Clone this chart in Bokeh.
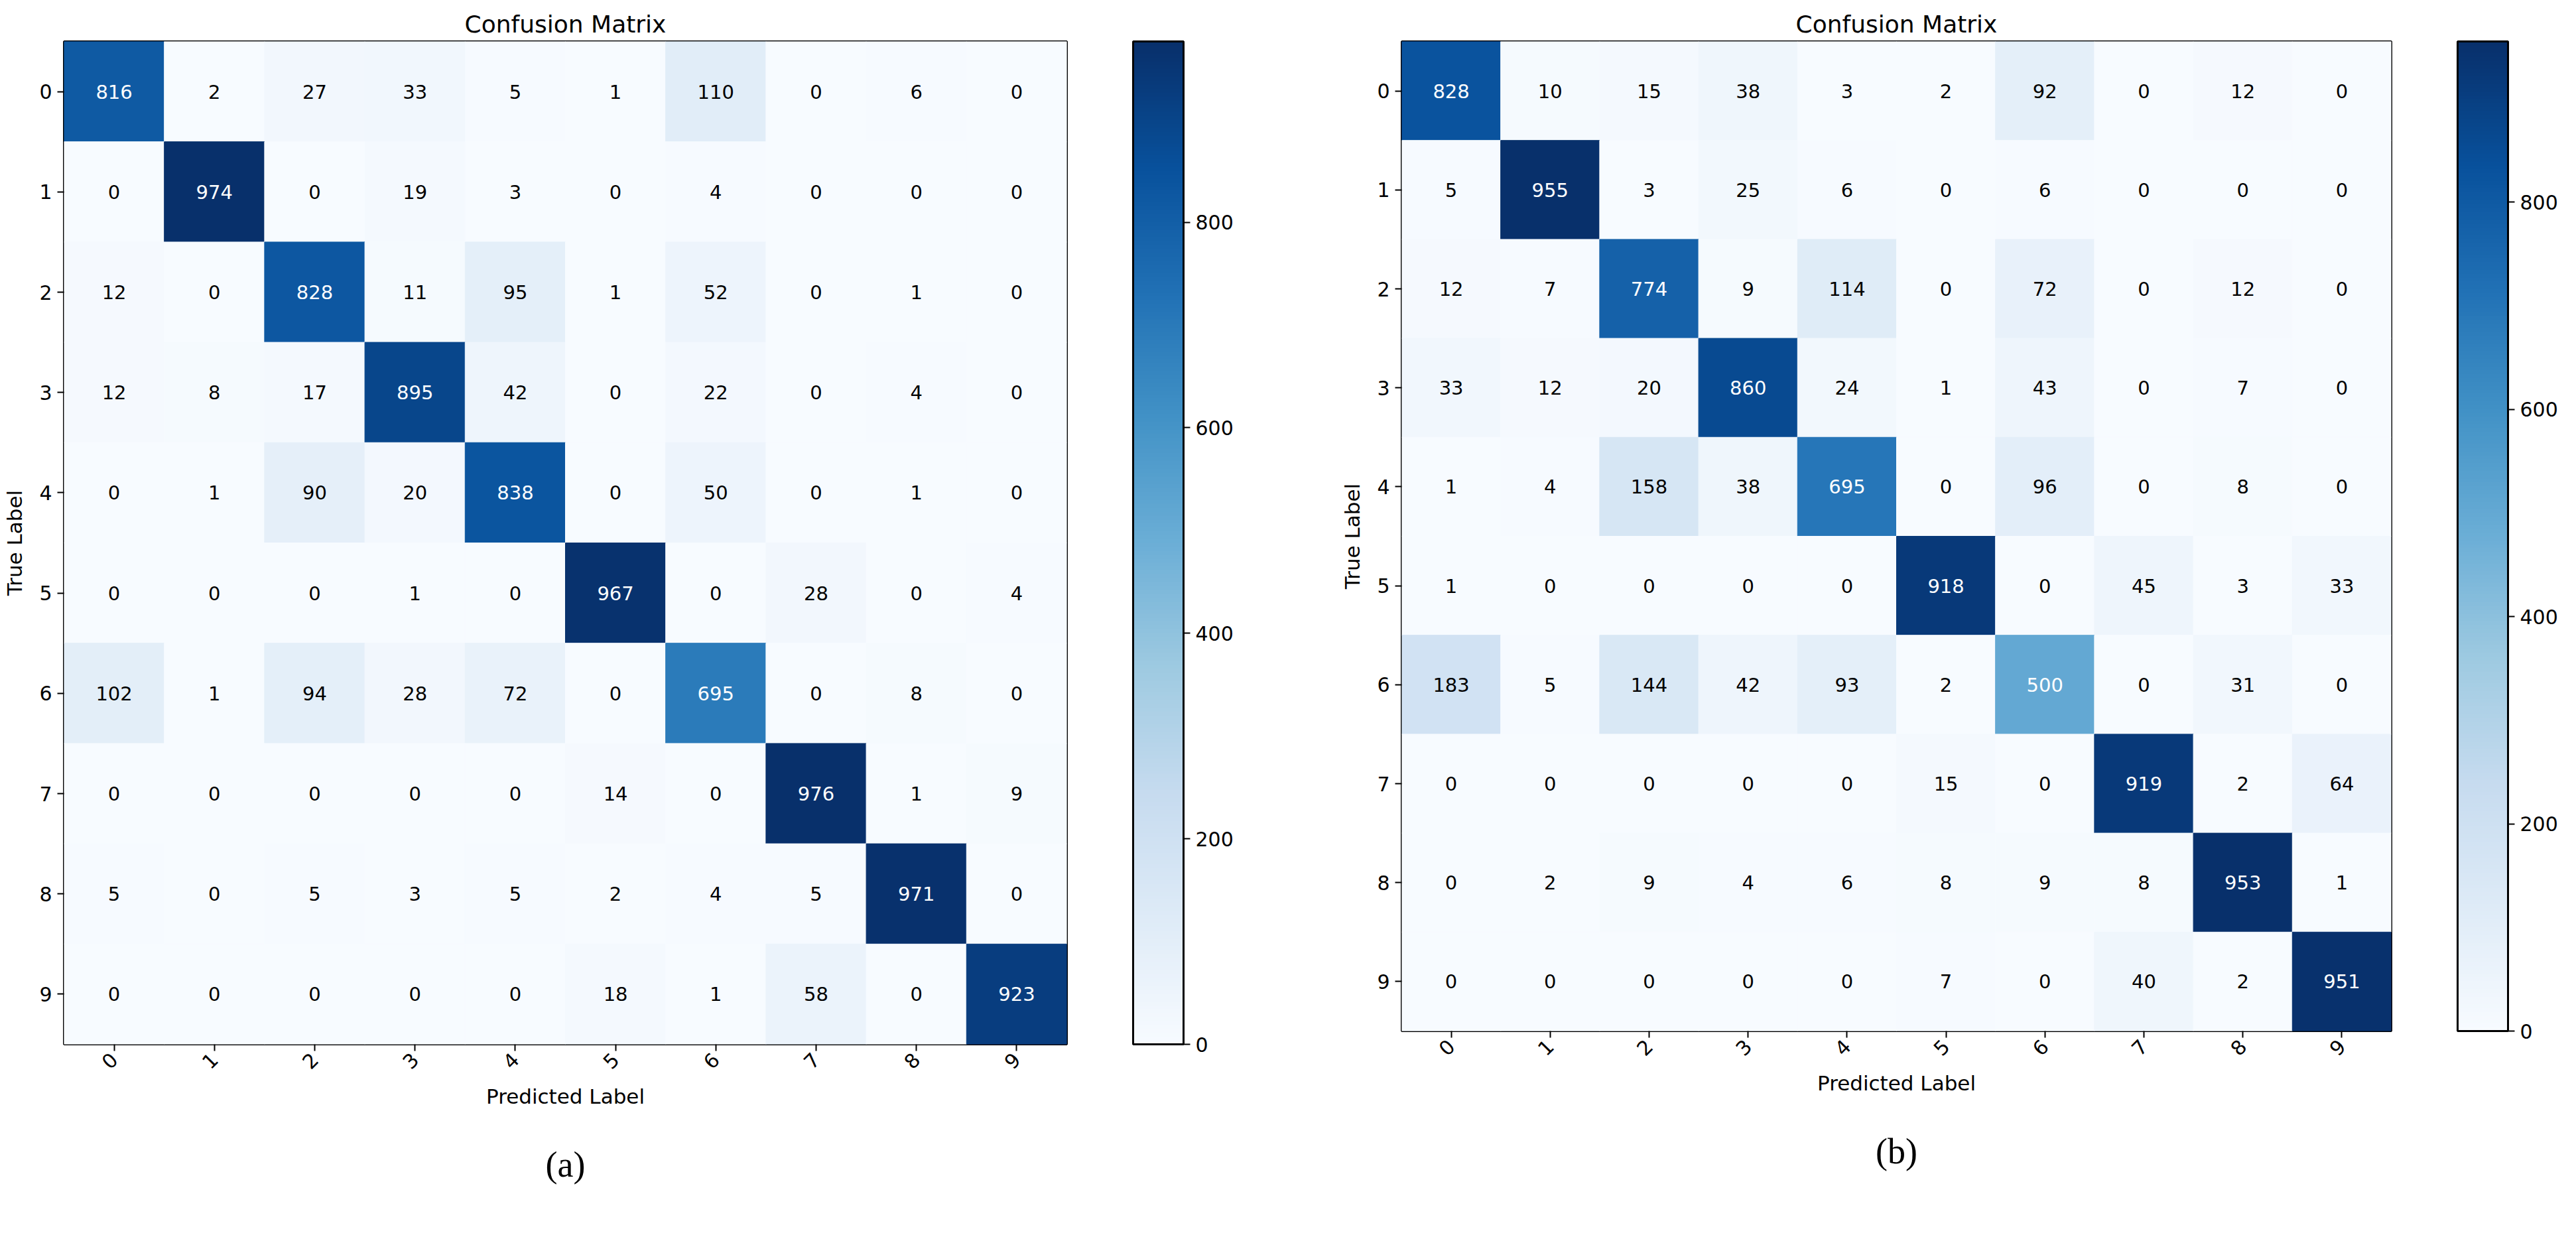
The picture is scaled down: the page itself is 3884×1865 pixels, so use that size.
import math
from bokeh.plotting import figure
from bokeh.models import (Range1d, FixedTicker, LinearColorMapper, ColorBar,
                          ColumnDataSource, Title)
from bokeh.layouts import row
from bokeh.palettes import Blues256
from bokeh.transform import transform
from bokeh.embed import file_html
from bokeh.resources import INLINE

# ---------------- data ----------------
classes = ["0", "1", "2", "3", "4", "5", "6", "7", "8", "9"]

cm_a = [
    [816, 2, 27, 33, 5, 1, 110, 0, 6, 0],
    [0, 974, 0, 19, 3, 0, 4, 0, 0, 0],
    [12, 0, 828, 11, 95, 1, 52, 0, 1, 0],
    [12, 8, 17, 895, 42, 0, 22, 0, 4, 0],
    [0, 1, 90, 20, 838, 0, 50, 0, 1, 0],
    [0, 0, 0, 1, 0, 967, 0, 28, 0, 4],
    [102, 1, 94, 28, 72, 0, 695, 0, 8, 0],
    [0, 0, 0, 0, 0, 14, 0, 976, 1, 9],
    [5, 0, 5, 3, 5, 2, 4, 5, 971, 0],
    [0, 0, 0, 0, 0, 18, 1, 58, 0, 923],
]

cm_b = [
    [828, 10, 15, 38, 3, 2, 92, 0, 12, 0],
    [5, 955, 3, 25, 6, 0, 6, 0, 0, 0],
    [12, 7, 774, 9, 114, 0, 72, 0, 12, 0],
    [33, 12, 20, 860, 24, 1, 43, 0, 7, 0],
    [1, 4, 158, 38, 695, 0, 96, 0, 8, 0],
    [1, 0, 0, 0, 0, 918, 0, 45, 3, 33],
    [183, 5, 144, 42, 93, 2, 500, 0, 31, 0],
    [0, 0, 0, 0, 0, 15, 0, 919, 2, 64],
    [0, 2, 9, 4, 6, 8, 9, 8, 953, 1],
    [0, 0, 0, 0, 0, 7, 0, 40, 2, 951],
]

cbar_ticks = [0, 200, 400, 600, 800]
panel_tags = ["(a)", "(b)"]

PALETTE = list(reversed(Blues256))
FONT = "DejaVu Sans"


def make_panel(cm, tag, frame, left, right, top, bottom):
    n = len(classes)
    vmax = max(max(r) for r in cm)
    mapper = LinearColorMapper(palette=PALETTE, low=0, high=vmax)

    xs, ys, vals, txt, tcol = [], [], [], [], []
    for i in range(n):
        for j in range(n):
            v = cm[i][j]
            xs.append(j)
            ys.append(i)
            vals.append(v)
            txt.append(str(v))
            tcol.append("white" if v > vmax / 2 else "black")
    src = ColumnDataSource(dict(x=xs, y=ys, v=vals, t=txt, c=tcol))

    p = figure(frame_width=frame, frame_height=frame,
               x_range=Range1d(-0.5, n - 0.5), y_range=Range1d(n - 0.5, -0.5),
               output_backend="svg", toolbar_location=None,
               min_border_left=left, min_border_right=right,
               min_border_top=top, min_border_bottom=bottom)
    p.background_fill_color = "white"
    p.border_fill_color = "white"
    p.grid.visible = False
    p.outline_line_color = "black"
    p.outline_line_width = 3

    p.rect(x="x", y="y", width=1, height=1, source=src,
           fill_color=transform("v", mapper),
           line_color=transform("v", mapper), line_width=1)
    p.text(x="x", y="y", text="t", source=src, text_color="c",
           text_align="center", text_baseline="middle",
           text_font_size="29px", text_font={"value": FONT})

    for ax in (p.xaxis[0], p.yaxis[0]):
        ax.ticker = FixedTicker(ticks=list(range(n)))
        ax.major_label_overrides = {k: classes[k] for k in range(n)}
        ax.minor_tick_line_color = None
        ax.axis_line_color = None
        ax.major_tick_in = 0
        ax.major_tick_out = 10
        ax.major_tick_line_width = 2
        ax.major_tick_line_color = "black"
        ax.major_label_text_font = FONT
        ax.major_label_text_font_size = "30px"
        ax.major_label_text_color = "black"
        ax.axis_label_text_font = FONT
        ax.axis_label_text_font_size = "31px"
        ax.axis_label_text_font_style = "normal"
        ax.axis_label_text_color = "black"
        ax.major_label_standoff = 8

    p.xaxis.axis_label = "Predicted Label"
    p.yaxis.axis_label = "True Label"
    p.xaxis.major_label_orientation = math.pi / 4
    p.yaxis.axis_label_standoff = 16
    p.xaxis.axis_label_standoff = 10

    p.title.text = "Confusion Matrix"
    p.title.align = "center"
    p.title.text_font = FONT
    p.title.text_font_size = "36px"
    p.title.text_font_style = "normal"
    p.title.text_color = "black"
    p.title.standoff = 12

    cb = ColorBar(color_mapper=mapper, ticker=FixedTicker(ticks=cbar_ticks),
                  width=76, height=frame, margin=0, padding=0,
                  location=(100, 0),
                  bar_line_color="black", bar_line_width=3,
                  major_tick_line_color="black", major_tick_line_width=2,
                  major_tick_in=0, major_tick_out=10,
                  minor_tick_line_color=None,
                  major_label_text_font=FONT,
                  major_label_text_font_size="30px",
                  major_label_text_color="black",
                  label_standoff=8,
                  border_line_color=None, background_fill_color=None)
    p.add_layout(cb, "right")

    p.add_layout(Title(text=tag, align="center", text_font="Liberation Serif",
                       text_font_size="54px", text_font_style="normal",
                       text_color="black", standoff=100), "below")
    return p


pa = make_panel(cm_a, panel_tags[0], 1512, 96, 374, 62, 275)
pb = make_panel(cm_b, panel_tags[1], 1492, 131, 263, 60, 297)

layout = row(pa, pb)
open("out.html", "w").write(file_html(layout, INLINE))
